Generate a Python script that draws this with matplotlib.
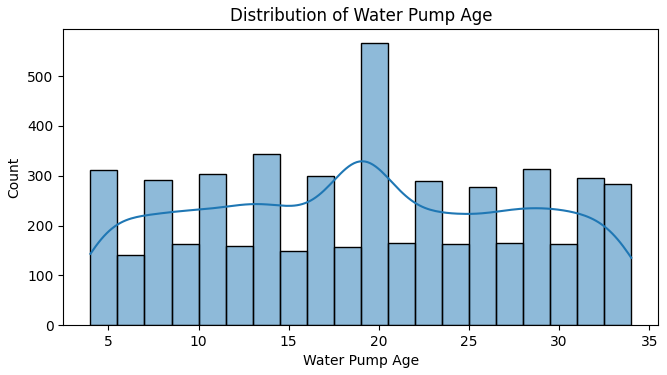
import numpy as np
import pandas as pd
import seaborn as sns
import matplotlib
matplotlib.use("Agg")
import matplotlib.pyplot as plt

# counts per pump age (years)
ages = list(range(4, 35))
counts = [156, 156, 140, 146, 146, 162, 152, 152, 158, 172, 172, 148, 150, 150, 156,
          400, 166, 165, 145, 145, 162, 139, 139, 165, 157, 157, 162, 148, 148, 142, 142]


def main():
    df = pd.DataFrame({"Water Pump Age": np.repeat(ages, counts)})

    fig, ax = plt.subplots(figsize=(6.67, 3.75), dpi=100)
    sns.histplot(data=df, x="Water Pump Age", bins=20, kde=True, ax=ax)
    ax.set_title("Distribution of Water Pump Age")
    ax.set_xlabel("Water Pump Age")
    ax.set_ylabel("Count")
    fig.subplots_adjust(left=0.095, right=0.987, top=0.922, bottom=0.133)
    fig.savefig("out.png", dpi=100)


if __name__ == "__main__":
    main()
